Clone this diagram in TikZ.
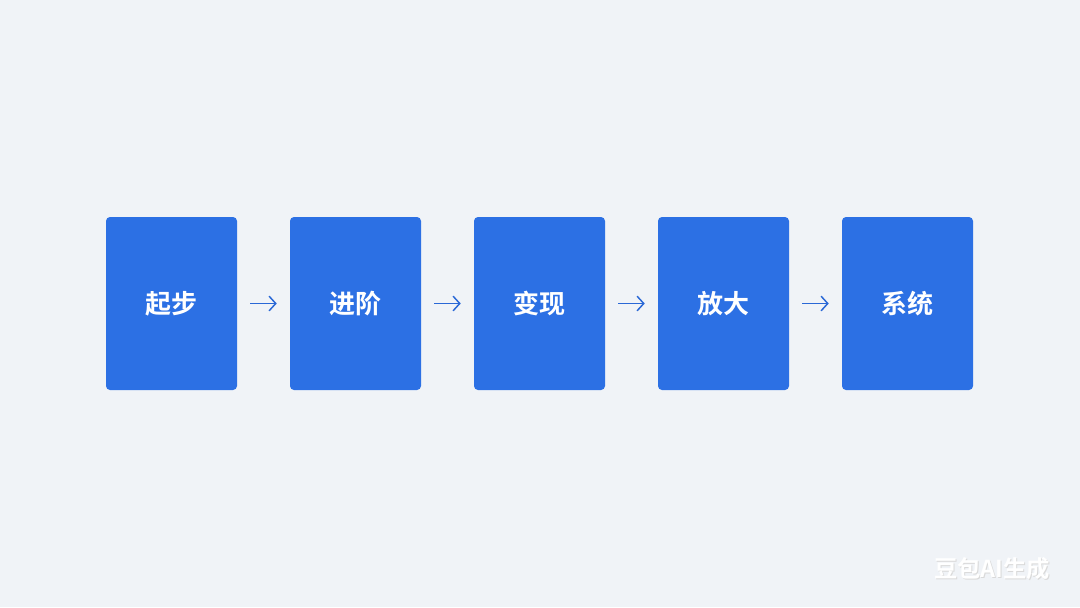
\documentclass[tikz,border=0pt]{standalone}
\usepackage{fontspec}
\newfontfamily\cjk{Noto Sans CJK SC Bold}
\usetikzlibrary{arrows.meta}
\definecolor{bg}{HTML}{F0F3F7}
\definecolor{boxblue}{HTML}{2C70E4}
\definecolor{arrowblue}{HTML}{2A68D6}
\tikzset{
  stagebox/.style={fill=boxblue, draw=none, rounded corners=3pt, minimum width=98.25pt, minimum height=129.75pt, inner sep=0pt, text=white, font=\cjk\fontsize{19.5pt}{22pt}\selectfont},
  flowarrow/.style={draw=arrowblue, line width=1.1pt, -{Straight Barb[length=5pt,width=11pt,line width=1.1pt]}, shorten <=9.75pt, shorten >=9.75pt},
  mark text/.style={text=white, font=\cjk\fontsize{17.5pt}{20pt}\selectfont, inner sep=0pt}
}
\begin{document}
\begin{tikzpicture}[x=0.75pt,y=-0.75pt]
\fill[bg] (0,0) rectangle (1080,607);
\useasboundingbox (0,0) rectangle (1080,607);
\node[stagebox] (s1) at (171.5,303.5) {起步};
\node[stagebox] (s2) at (355.5,303.5) {进阶};
\node[stagebox] (s3) at (539.5,303.5) {变现};
\node[stagebox] (s4) at (723.5,303.5) {放大};
\node[stagebox] (s5) at (907.5,303.5) {系统};
\draw[flowarrow] (s1.east) -- (s2.west);
\draw[flowarrow] (s2.east) -- (s3.west);
\draw[flowarrow] (s3.east) -- (s4.west);
\draw[flowarrow] (s4.east) -- (s5.west);
\node[mark text, text=black!15] (wms) at (993,569.5) {豆包AI生成};
\node[mark text] (wm) at (992,568.5) {豆包AI生成};
\end{tikzpicture}
\end{document}
